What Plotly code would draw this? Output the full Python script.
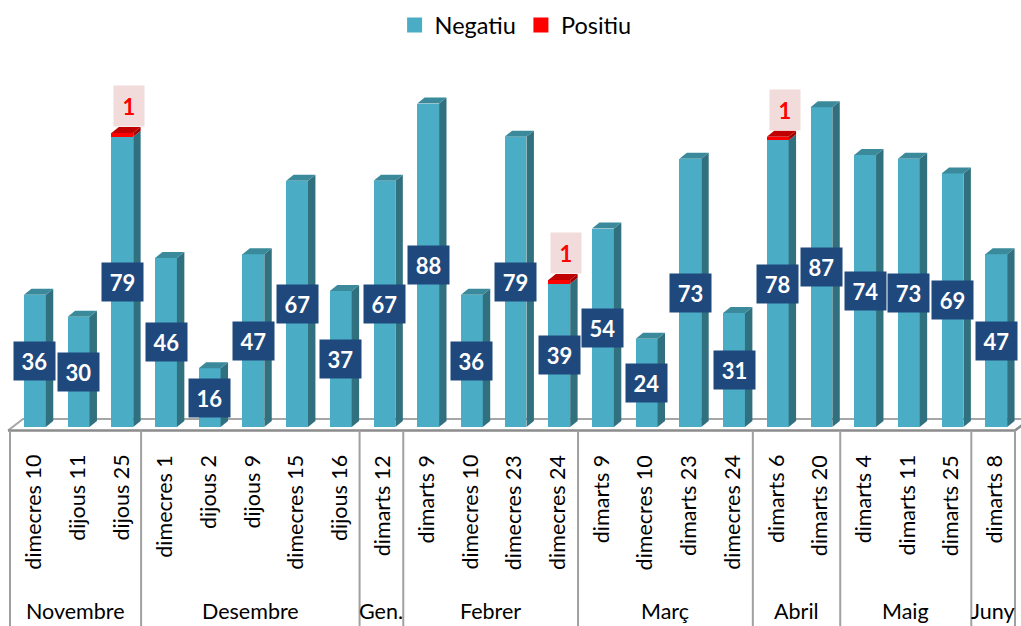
import plotly.graph_objects as go

# ---------------- data ----------------
months = ["Novembre", "Desembre", "Gen.", "Febrer", "Març", "Abril", "Maig", "Juny"]
month_sizes = [3, 5, 1, 4, 4, 2, 3, 1]
days = ["dimecres 10", "dijous 11", "dijous 25",
        "dimecres 1", "dijous 2", "dijous 9", "dimecres 15", "dijous 16",
        "dimarts 12",
        "dimarts 9", "dimecres 10", "dimecres 23", "dimecres 24",
        "dimarts 9", "dimecres 10", "dimarts 23", "dimecres 24",
        "dimarts 6", "dimarts 20",
        "dimarts 4", "dimarts 11", "dimarts 25",
        "dimarts 8"]
negatiu = [36, 30, 79, 46, 16, 47, 67, 37, 67, 88, 36, 79, 39, 54, 24, 73, 31, 78, 87, 74, 73, 69, 47]
positiu = [0, 0, 1, 0, 0, 0, 0, 0, 0, 0, 0, 0, 1, 0, 0, 0, 0, 1, 0, 0, 0, 0, 0]

# ---------------- styles ----------------
C_FRONT, C_SIDE, C_TOP = "#4BACC6", "#31717F", "#3B8A9B"
C_RED, C_RED_SIDE, C_RED_TOP = "#FF0000", "#A00000", "#C00000"
C_LABEL_BG, C_POS_BG = "#1F497D", "#F2DCDB"
FONT = "Lato"
BAR_W, BAR_OFF = 0.5, -0.18      # front face of each column
DX, DY = 0.17, 1.63              # 3D depth (x units, y units)

n = len(days)
xs = list(range(n))

fig = go.Figure()
fig.add_trace(go.Bar(x=xs, y=negatiu, name="Negatiu", width=BAR_W, offset=BAR_OFF,
                     marker=dict(color=C_FRONT, line=dict(width=0)), showlegend=False))
fig.add_trace(go.Bar(x=xs, y=positiu, name="Positiu", width=BAR_W, offset=BAR_OFF,
                     marker=dict(color=C_RED, line=dict(width=0)), showlegend=False))
# legend entries
fig.add_trace(go.Scatter(x=[None], y=[None], mode="markers", name="Negatiu",
                         marker=dict(symbol="square", size=15, color=C_FRONT)))
fig.add_trace(go.Scatter(x=[None], y=[None], mode="markers", name="Positiu",
                         marker=dict(symbol="square", size=15, color=C_RED)))

shapes = []
# floor (back edge, behind columns)
FL_FRONT_Y, FL_BACK_Y = -0.95, 2.18
shapes.append(dict(type="path", layer="below", xref="x", yref="y",
                   path=f"M-0.546,{FL_FRONT_Y} L-0.2025,{FL_BACK_Y} L23.2,{FL_BACK_Y}",
                   line=dict(color="#A6A6A6", width=2)))
shapes.append(dict(type="path", layer="below", xref="x", yref="y",
                   path=f"M-0.546,{FL_FRONT_Y} L22.5,{FL_FRONT_Y} L22.84,{FL_BACK_Y}",
                   line=dict(color="#8C8C8C", width=2.5)))

# 3D faces of columns
for i, (ng, ps) in enumerate(zip(negatiu, positiu)):
    l = i + BAR_OFF
    r = l + BAR_W
    tot = ng + ps
    shapes.append(dict(type="path", layer="above", xref="x", yref="y",
                       path=f"M{r},0 L{r+DX},{DY} L{r+DX},{ng+DY} L{r},{ng} Z",
                       fillcolor=C_SIDE, line=dict(width=0)))
    if ps > 0:
        shapes.append(dict(type="path", layer="above", xref="x", yref="y",
                           path=f"M{r},{ng} L{r+DX},{ng+DY} L{r+DX},{tot+DY} L{r},{tot} Z",
                           fillcolor=C_RED_SIDE, line=dict(width=0)))
    shapes.append(dict(type="path", layer="above", xref="x", yref="y",
                       path=f"M{l},{tot} L{l+DX},{tot+DY} L{r+DX},{tot+DY} L{r},{tot} Z",
                       fillcolor=C_RED_TOP if ps > 0 else C_TOP, line=dict(width=0)))

# category dividers
Y_BOTTOM = -60
bounds = [0]
for s in month_sizes:
    bounds.append(bounds[-1] + s)
for b in bounds:
    shapes.append(dict(type="line", xref="x", yref="y", x0=b - 0.5, x1=b - 0.5,
                       y0=FL_FRONT_Y, y1=Y_BOTTOM, line=dict(color="#A0A0A0", width=2)))

annotations = []
# data labels
for i, (ng, ps) in enumerate(zip(negatiu, positiu)):
    annotations.append(dict(x=i + 0.07, y=ng / 2, xref="x", yref="y", text=f"<b>{ng}</b>",
                            showarrow=False, bgcolor=C_LABEL_BG, width=41, height=38,
                            borderpad=0, font=dict(family=FONT, size=22, color="white")))
    if ps > 0:
        annotations.append(dict(x=i + 0.23, y=ng + ps + 1.6, xref="x", yref="y",
                                text=f"<b>{ps}</b>", showarrow=False, yanchor="bottom",
                                bgcolor=C_POS_BG, width=30, height=40, borderpad=0,
                                font=dict(family=FONT, size=22, color=C_RED)))
# day labels
for i, d in enumerate(days):
    annotations.append(dict(x=i + 0.03, y=-7.07, xref="x", yref="y", text=d, textangle=-90,
                            showarrow=False, xanchor="center", yanchor="top",
                            font=dict(family=FONT, size=21.5, color="black")))
# month labels
for k, m in enumerate(months):
    c = (bounds[k] + bounds[k + 1] - 1) / 2
    annotations.append(dict(x=c, y=-50.1, xref="x", yref="y", text=m, showarrow=False,
                            xanchor="center", yanchor="middle",
                            font=dict(family=FONT, size=21.5, color="black")))

fig.update_layout(
    width=1021, height=626,
    margin=dict(l=0, r=0, t=74, b=0),
    paper_bgcolor="white", plot_bgcolor="white",
    barmode="stack",
    xaxis=dict(range=[-0.7289, 22.6373], visible=False, fixedrange=True),
    yaxis=dict(range=[-54.15, 96.05], visible=False, fixedrange=True),
    shapes=shapes, annotations=annotations,
    legend=dict(orientation="h", x=0.505, xanchor="center", y=1.128, yanchor="top",
                traceorder="normal",
                font=dict(family=FONT, size=23.5, color="black"), itemclick=False),
    showlegend=True,
)

fig.write_html("out.html", config={"displayModeBar": False},
               post_script="document.body.style.margin='0';")
